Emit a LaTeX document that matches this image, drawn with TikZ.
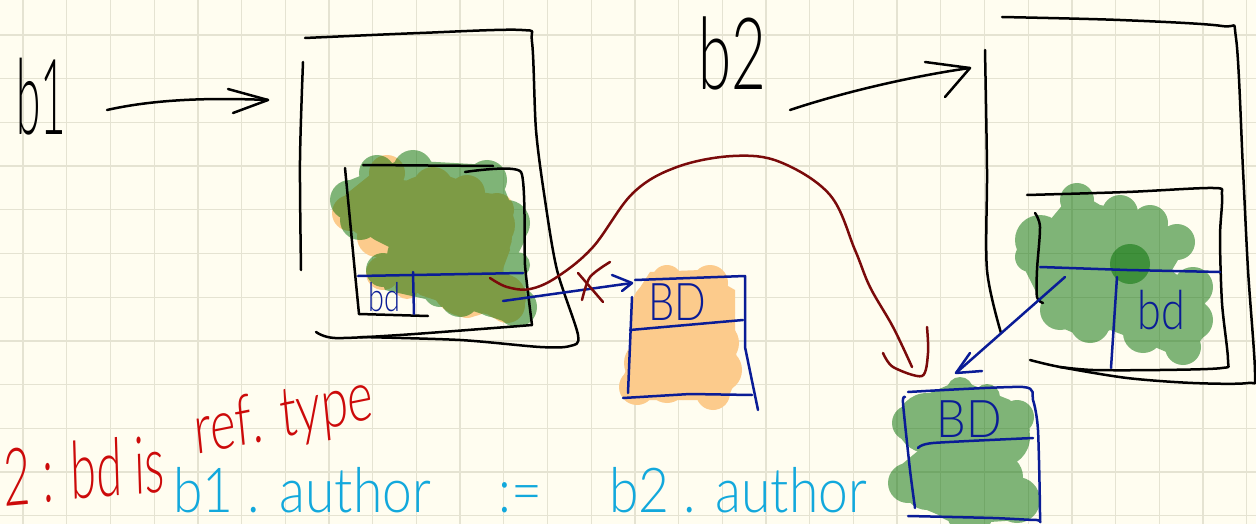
\documentclass[tikz,border=0pt]{standalone}
\usepackage{fontspec}
\newfontfamily\hand{Lato Light}
\definecolor{paper}{HTML}{FFFDF0}
\definecolor{gridc}{HTML}{E5E3D2}
\definecolor{navy}{HTML}{0A1C96}
\definecolor{wine}{HTML}{7A0A0A}
\definecolor{redink}{HTML}{CC0A0A}
\definecolor{cyanink}{HTML}{12A8DC}
\definecolor{orangeb}{HTML}{FCCB8C}
\definecolor{greenb}{HTML}{006D00}
\tikzset{
grid/.style = {line width = 1.3pt,color = gridc},
ink/.style = {line width = 2.5pt,color = black,line cap=round,line join=round},
blueink/.style = {line width = 2.5pt,color = navy,line cap=round,line join=round},
wineink/.style = {line width = 2.5pt,color = wine,line cap=round,line join=round},
script/.style = {inner sep=0pt,font=\hand\fontsize{#1}{#1}\selectfont}
}
\begin{document}
\begin{tikzpicture}[x=1pt,y=-1pt]
%
\def\orangelist{387/173/18,433/187/20,467/193/18,497/210/17,350/213/18,377/237/20,433/230/56,487/237/25,490/225/25,417/270/23,383/273/17,407/287/12,467/280/37,503/297/23,507/305/18,467/303/15,667/280/15,710/283/18,653/303/20,717/313/18,717/343/22,720/370/22,683/347/53,637/387/18,713/393/17,667/383/20,647/363/23}
\def\greenlist{377/173/18,413/170/20,443/180/17,487/180/20,350/200/20,360/220/20,507/223/23,390/207/33,433/213/43,473/220/33,490/240/20,383/270/17,417/257/30,467/263/37,507/280/20,517/307/20,493/297/20,460/297/20,440/290/17,517/265/13,1077/200/17,1040/240/25,1030/257/15,1120/213/18,1150/223/18,1177/242/18,1093/253/43,1137/247/30,1060/310/20,1090/323/20,1077/287/37,1193/287/20,1193/320/20,1183/347/18,1143/333/20,1153/303/37,960/390/13,987/397/13,910/423/18,1017/417/17,960/430/43,927/423/30,1000/437/30,908/483/20,1000/477/23,1017/500/23,960/490/33,927/487/23,970/513/23}
%
\useasboundingbox (0,0) rectangle (1256,524);
\fill[paper] (0,0) rectangle (1256,524);
\foreach \x in {0,...,28} {\draw[grid] (23.1+\x*43.7,0)--(23.1+\x*43.7,524);}
\foreach \y in {0,...,11} {\draw[grid] (0,35+\y*43.7)--(1256,35+\y*43.7);}
%
\foreach \x/\y/\r in \orangelist {\fill[orangeb] (\x,\y) circle (\r);}
\fill[orangeb] (370,175)--(500,195)--(510,250)--(495,290)--(510,320)--(450,305)--(420,295)--(395,270)--(380,250)--(345,225)--(345,195)--cycle;
\fill[orangeb] (650,272)--(700,270)--(735,290)--(735,340)--(738,375)--(725,405)--(700,400)--(640,400)--(620,385)--(630,360)--(632,300)--cycle;
\begin{scope}[transparency group,opacity=0.5]
\foreach \x/\y/\r in \greenlist {\fill[greenb] (\x,\y) circle (\r);}
\fill[greenb] (350,180)--(400,160)--(490,165)--(505,190)--(525,240)--(510,270)--(530,310)--(515,325)--(470,310)--(430,300)--(385,290)--(375,265)--(395,250)--(375,240)--(345,220)--cycle;
\fill[greenb] (1075,190)--(1100,205)--(1150,215)--(1190,240)--(1160,290)--(1205,285)--(1205,335)--(1185,360)--(1150,345)--(1110,330)--(1090,340)--(1055,325)--(1040,300)--(1020,260)--(1050,220)--cycle;
\fill[greenb] (960,380)--(1010,400)--(1030,430)--(1010,465)--(1030,500)--(1020,520)--(960,524)--(915,505)--(895,470)--(925,445)--(900,420)--(925,395)--cycle;
\end{scope}
\fill[greenb,opacity=0.5] (1130,264) circle (20);
%
% left object
\draw[ink] plot[smooth,tension=.5] coordinates {(303,62)(300,160)(301,270)};
\draw[ink] plot[smooth,tension=.5] coordinates {(305,38)(420,33)(522,30)(532,42)(536,130)(545,200)(557,270)(578,335)(570,346)(540,347)(460,340)(360,337)};
\draw[ink] plot[smooth,tension=.5] coordinates {(316,332)(335,338)(400,335)(507,327)(532,325)};
\draw[ink] plot[smooth,tension=.3] coordinates {(532,325)(525,265)(521,172)(465,172)};
\draw[ink] (363,165)--(493,166);
\draw[ink] plot[smooth,tension=.4] coordinates {(345,168)(350,220)(355,273)(359,314)};
\draw[ink] (359,314)--(428,316);
\draw[blueink] (358,276)--(523,273);
\draw[blueink] (413,272)--(414,314);
\node[script=40,text=navy,xscale=.72] (bdone) at (384,297) {bd};
%
% right object
\draw[ink] plot[smooth,tension=.5] coordinates {(985,50)(987,170)(987,270)(1001,333)};
\draw[ink] plot[smooth,tension=.5] coordinates {(1002,17)(1120,20)(1222,26)(1236,38)(1243,170)(1248,270)(1255,373)(1248,383)(1193,383)(1127,378)(1060,367)(1030,360)};
\draw[ink] plot[smooth,tension=.5] coordinates {(1027,195)(1127,192)(1213,188)(1222,195)(1220,237)(1222,303)(1228,360)(1222,368)(1160,370)(1093,370)(1060,367)};
\draw[ink] plot[smooth,tension=.5] coordinates {(1035,213)(1040,227)(1037,270)(1037,297)(1043,303)};
\draw[blueink] (1040,267)--(1127,270)--(1220,272);
\draw[blueink] (1117,277)--(1111,368);
\node[script=54,text=navy,xscale=.8] (bdtwo) at (1161,310) {bd};
%
% middle BD
\draw[blueink] (635,280)--(745,276)--(745,347)--(758,410);
\draw[blueink] (630,330)--(743,320);
\draw[blueink] (632,297)--(628,393);
\draw[blueink] (623,398)--(690,394)--(752,395);
\node[script=52,text=navy,xscale=.8] (bdmid) at (677,302) {BD};
%
% lower BD
\draw[blueink] plot[smooth,tension=.4] coordinates {(908,392)(1023,387)(1033,400)(1038,430)(1040,517)(1037,520)(993,518)(908,516)};
\draw[blueink] plot[smooth,tension=.4] coordinates {(905,397)(903,403)(910,470)(915,508)};
\draw[blueink] plot[smooth,tension=.4] coordinates {(918,448)(933,443)(1033,438)};
\node[script=52,text=navy,xscale=.9] (bdlow) at (969,419) {BD};
%
% names and arrows
\node[script=105,xscale=.42] (bone) at (41,97) {b1};
\node[script=100,xscale=.6] (btwo) at (732,53) {b2};
\coordinate (ones) at (107,110);
\coordinate (onee) at (268,100);
\coordinate (twos) at (790,110);
\coordinate (twoe) at (970,68);
\coordinate (olds) at (503,301);
\coordinate (olde) at (632,283);
\coordinate (news) at (1065,277);
\coordinate (newe) at (956,373);
\draw[ink] (ones) .. controls (160,98) and (220,98) .. (onee);
\draw[ink] (228,89)--(onee)--(233,113);
\draw[ink] (twos) .. controls (850,90) and (920,75) .. (twoe);
\draw[ink] (925,62)--(twoe)--(945,97);
\draw[blueink] (olds)--(olde);
\draw[blueink] (612,275)--(olde)--(622,291);
\draw[blueink] (news)--(newe);
\draw[blueink] (970,353)--(newe)--(982,371);
%
\draw[wineink] (578,273)--(603,302);
\draw[wineink] plot[smooth,tension=.5] coordinates {(582,300)(590,277)(610,262)};
\draw[wineink] plot[smooth,tension=.6] coordinates {(490,278)(507,287)(530,289)(557,277)(593,247)(633,193)(677,167)(733,156)(780,162)(830,195)(855,250)(870,287)(893,327)(912,367)};
\draw[wineink] plot[smooth,tension=.5] coordinates {(883,353)(893,367)(922,376)(928,353)(927,327)};
%
% notes
\node[script=80,text=redink,xscale=.58,rotate=3] (notea) at (84,470) {2 : bd is};
\node[script=70,text=redink,xscale=.7,rotate=8] (noteb) at (284,418) {ref. type};
\node[script=62,text=cyanink,xscale=.86] (notec) at (520,490) {b1 . author\hspace{78pt}:=\hspace{78pt}b2 . author};
%
\end{tikzpicture}
\end{document}
